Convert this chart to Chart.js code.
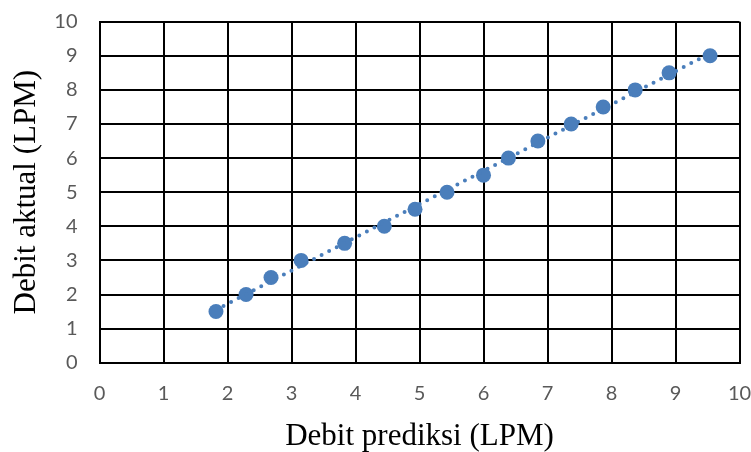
<!DOCTYPE html>
<html>
<head>
<meta charset="utf-8">
<script src="https://cdn.jsdelivr.net/npm/chart.js@4/dist/chart.umd.min.js"></script>
<style>
  html, body { margin: 0; padding: 0; background: #fff; }
  #wrap { width: 751px; height: 452px; }
</style>
</head>
<body>
<div id="wrap"><canvas id="chart"></canvas></div>
<script>
// values
const debitPrediksi = [1.82, 2.29, 2.68, 3.15, 3.83, 4.45, 4.93, 5.43, 6.0, 6.39, 6.85, 7.37, 7.87, 8.37, 8.9, 9.54];
const debitAktual = [1.5, 2.0, 2.5, 3.0, 3.5, 4.0, 4.5, 5.0, 5.5, 6.0, 6.5, 7.0, 7.5, 8.0, 8.5, 9.0];
const axisTicks = [0, 1, 2, 3, 4, 5, 6, 7, 8, 9, 10];

const blue = '#4a7ebb';
const tickFont = { family: 'Lato', size: 20 };
const titleFont = { family: 'Liberation Serif', size: 31, lineHeight: 1 };

// linear trendline (least squares) over the data
function trend(xs, ys) {
  const n = xs.length;
  let sx = 0, sy = 0, sxx = 0, sxy = 0;
  for (let i = 0; i < n; i++) {
    sx += xs[i]; sy += ys[i];
    sxx += xs[i] * xs[i]; sxy += xs[i] * ys[i];
  }
  const m = (n * sxy - sx * sy) / (n * sxx - sx * sx);
  const b = (sy - m * sx) / n;
  const x0 = Math.min(...xs), x1 = Math.max(...xs);
  return [{ x: x0, y: m * x0 + b }, { x: x1, y: m * x1 + b }];
}

const points = debitPrediksi.map((x, i) => ({ x: x, y: debitAktual[i] }));

// no extra room for overflowing tick labels, the padding below is exact
function noOverflow(scale) {
  scale.paddingLeft = 0;
  scale.paddingRight = 0;
  scale.paddingTop = 0;
  scale.paddingBottom = 0;
}

const ctx = document.getElementById('chart').getContext('2d');
new Chart(ctx, {
  type: 'scatter',
  data: {
    datasets: [
      {
        label: 'Trendline',
        type: 'line',
        data: trend(debitPrediksi, debitAktual),
        borderColor: blue,
        borderWidth: 4,
        borderDash: [0, 8.5],
        borderCapStyle: 'round',
        pointRadius: 0,
        fill: false,
        order: 0
      },
      {
        label: 'Debit',
        data: points,
        backgroundColor: blue,
        borderColor: blue,
        borderWidth: 0,
        pointRadius: 7.5,
        order: 1
      }
    ]
  },
  options: {
    responsive: true,
    maintainAspectRatio: false,
    animation: false,
    layout: { padding: { top: 21.7, right: 11.5, left: 0, bottom: 0 } },
    plugins: {
      legend: { display: false },
      tooltip: { enabled: false }
    },
    scales: {
      x: {
        type: 'linear',
        min: 0,
        max: 10,
        afterBuildTicks: (scale) => { scale.ticks = axisTicks.map(v => ({ value: v })); },
        afterFit: (scale) => { scale.height = 89.3; noOverflow(scale); },
        grid: { color: '#000', lineWidth: 2, drawTicks: false },
        border: { color: '#000', width: 2 },
        ticks: { color: '#595959', font: tickFont, padding: 19 },
        title: {
          display: true,
          text: 'Debit prediksi (LPM)',
          color: '#000',
          font: titleFont,
          padding: { top: 0, bottom: 0 }
        }
      },
      y: {
        type: 'linear',
        min: 0,
        max: 10,
        afterBuildTicks: (scale) => { scale.ticks = axisTicks.map(v => ({ value: v })); },
        afterFit: (scale) => { scale.width = 99.5; noOverflow(scale); },
        grid: { color: '#000', lineWidth: 2, drawTicks: false },
        border: { color: '#000', width: 2 },
        ticks: { color: '#595959', font: tickFont, padding: 22 },
        title: {
          display: true,
          text: 'Debit aktual (LPM)',
          color: '#000',
          font: titleFont,
          padding: { top: 11, bottom: 0 }
        }
      }
    }
  }
});
</script>
</body>
</html>
